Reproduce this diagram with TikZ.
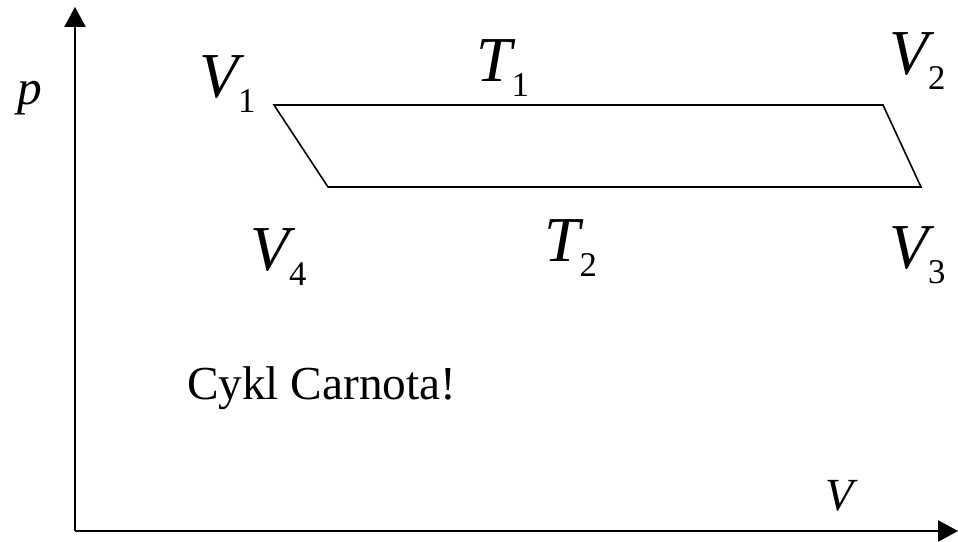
\documentclass[tikz,border=0pt]{standalone}
\usepackage{fontspec}
\setmainfont{Liberation Serif}
\usetikzlibrary{arrows.meta}
\newcommand{\plab}[3][0pt]{{\fontsize{48}{48}\selectfont\itshape #2\kern#1\raisebox{-11.25pt}{\fontsize{26}{26}\selectfont\upshape #3}}}
\begin{document}
\begin{tikzpicture}[x=0.75pt,y=-0.75pt,
  axisline/.style={line width=1.2pt,-{Triangle[length=15pt,width=16pt]}},
  loopline/.style={line width=1.2pt,line join=miter},
  lab/.style={inner sep=0pt,outer sep=0pt,anchor=base west}]
\useasboundingbox (0,0) rectangle (958,542);
% axes
\coordinate (O) at (75,531);
\coordinate (ytop) at (75,7);
\coordinate (xend) at (958,531);
\draw[axisline] (O) -- (ytop);
\draw[axisline] (O) -- (xend);
% cycle
\coordinate (A) at (274,105);
\coordinate (B) at (883,105);
\coordinate (C) at (921,187);
\coordinate (D) at (328,187);
\draw[loopline] (A) -- (B) -- (C) -- (D) -- cycle;
% labels
\node[lab] (p) at (17,105) {\fontsize{37}{37}\selectfont\itshape p};
\node[lab] (V) at (825,510) {\fontsize{34.5}{34.5}\selectfont\itshape V};
\node[lab] (V1) at (199,98) {\plab{V}{1}};
\node[lab] (T1) at (476,82) {\plab{T}{1}};
\node[lab] (V2) at (889,75) {\plab{V}{2}};
\node[lab] (V4) at (250,270) {\plab{V}{4}};
\node[lab] (T2) at (544,261) {\plab{T}{2}};
\node[lab] (V3) at (889,268) {\plab{V}{3}};
\node[lab] (txt) at (187,399) {\fontsize{35.5}{35.5}\selectfont Cykl Carnota!};
\end{tikzpicture}
\end{document}
